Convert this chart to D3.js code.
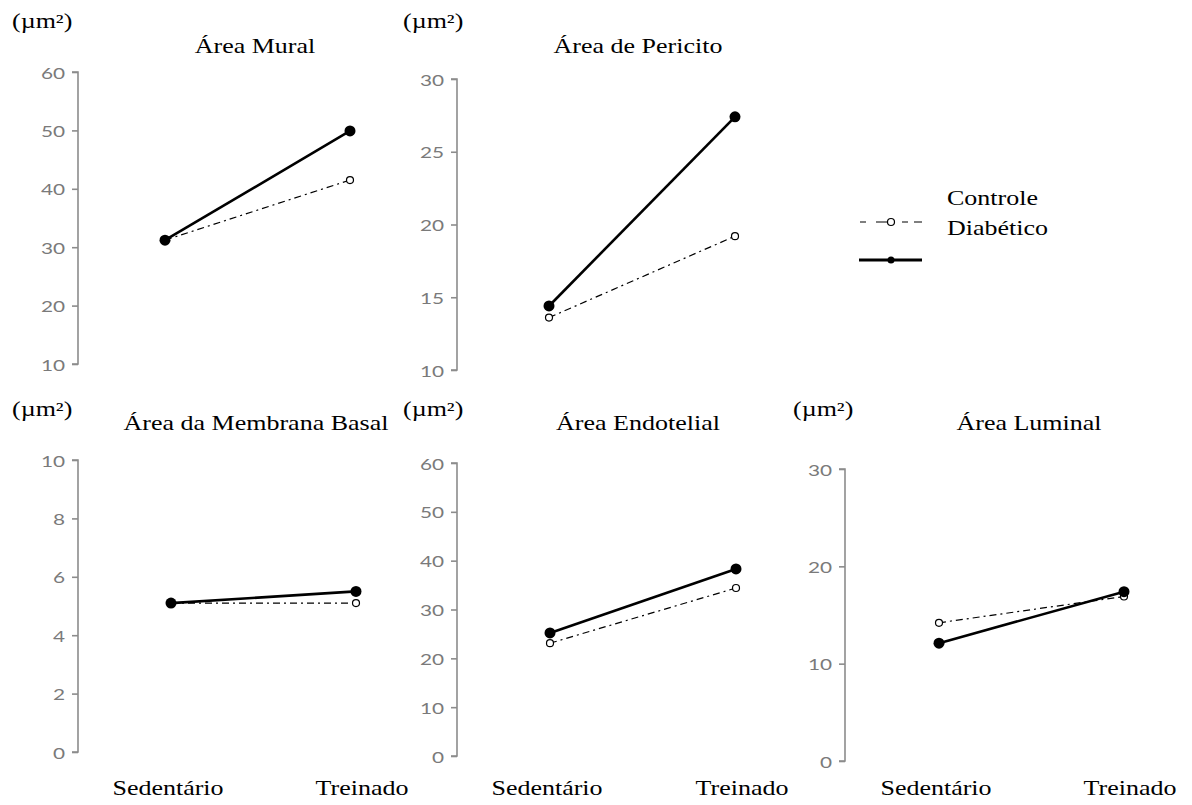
<!DOCTYPE html>
<html><head><meta charset="utf-8">
<script src="https://cdn.jsdelivr.net/npm/d3@7"></script>
<style>body{margin:0;background:#fff}svg{display:block}</style>
</head><body>
<svg id="c" width="1192" height="805"></svg>
<script>
// ---- data ----
const categories = ["Sedentário", "Treinado"];
const titles = ["Área Mural", "Área de Pericito", "Área da Membrana Basal", "Área Endotelial", "Área Luminal"];
const controle = [[31.2, 41.5], [13.6, 19.2], [5.1, 5.1], [23.1, 34.4], [14.2, 16.9]];
const diabetico = [[31.2, 49.9], [14.4, 27.4], [5.1, 5.5], [25.2, 38.3], [12.1, 17.4]];
const yDomains = [[10, 60], [10, 30], [0, 10], [0, 60], [0, 30]];
const yTicks = [[10, 20, 30, 40, 50, 60], [10, 15, 20, 25, 30], [0, 2, 4, 6, 8, 10], [0, 10, 20, 30, 40, 50, 60], [0, 10, 20, 30]];
const seriesNames = ["Controle", "Diabético"];
const unitLabel = "(µm²)";

// ---- layout ----
const layout = [
  {ax: 78,  yT: 72,  yB: 364, x0: 165, x1: 350, tx: 255,  ty: 53,  ux: 12,  uy: 28, xl: false},
  {ax: 457, yT: 79,  yB: 370, x0: 549, x1: 735, tx: 638,  ty: 53,  ux: 403, uy: 28, xl: false},
  {ax: 78,  yT: 460, yB: 752, x0: 171, x1: 356, tx: 256,  ty: 430, ux: 12,  uy: 416, xl: true},
  {ax: 457, yT: 463, yB: 756, x0: 550, x1: 736, tx: 638,  ty: 430, ux: 403, uy: 416, xl: true},
  {ax: 845, yT: 469, yB: 761, x0: 939, x1: 1124, tx: 1029, ty: 430, ux: 793, uy: 416, xl: true}
];
const SX = 1.3; // horizontal text stretch
const serif = "'Liberation Serif','Times New Roman',serif";
const sans = "Lato,'Open Sans',sans-serif";

const svg = d3.select("#c");

function txt(g, x, y, s, opts) {
  const t = g.append("text")
    .attr("transform", `translate(${x},${y}) scale(${SX},1)`)
    .attr("font-family", opts.font || serif)
    .attr("font-size", opts.size || 20)
    .attr("fill", opts.fill || "#000")
    .attr("text-anchor", opts.anchor || "start")
    .text(s);
  return t;
}

const dashC = "7,4,2,4";

layout.forEach((L, i) => {
  const g = svg.append("g");
  const y = d3.scaleLinear().domain(yDomains[i]).range([L.yB, L.yT]);
  const x = d3.scalePoint().domain(categories).range([L.x0, L.x1]);

  // axis
  const axis = d3.axisLeft(y).tickValues(yTicks[i]).tickSize(6).tickPadding(7).tickFormat(d3.format("d"));
  const ag = g.append("g").attr("transform", `translate(${L.ax},0)`).call(axis);
  ag.select(".domain").attr("stroke", "#8c8c8c").attr("stroke-width", 1.6).attr("d", `M-6,${L.yT}H0V${L.yB}H-6`);
  ag.selectAll(".tick line").attr("stroke", "#8c8c8c").attr("stroke-width", 1.6);
  ag.selectAll(".tick text").each(function() {
    d3.select(this).attr("x", null).attr("dy", null)
      .attr("transform", `translate(-13,6) scale(${SX},1)`)
      .attr("font-family", sans).attr("font-size", 16).attr("fill", "#7a7a7a");
  });

  // title & units
  txt(g, L.tx, L.ty, titles[i], {anchor: "middle"});
  txt(g, L.ux, L.uy, unitLabel, {});

  // lines
  const line = d3.line().x((d, j) => x(categories[j])).y(d => y(d));
  g.append("path").datum(controle[i]).attr("d", line).attr("fill", "none")
    .attr("stroke", "#000").attr("stroke-width", 1.2).attr("stroke-dasharray", dashC);
  g.append("path").datum(diabetico[i]).attr("d", line).attr("fill", "none")
    .attr("stroke", "#000").attr("stroke-width", 2.6);
  g.selectAll(".mc").data(controle[i]).enter().append("circle")
    .attr("cx", (d, j) => x(categories[j])).attr("cy", d => y(d)).attr("r", 3.5)
    .attr("fill", "#fff").attr("stroke", "#000").attr("stroke-width", 1.2);
  g.selectAll(".md").data(diabetico[i]).enter().append("circle")
    .attr("cx", (d, j) => x(categories[j])).attr("cy", d => y(d)).attr("r", 5.5)
    .attr("fill", "#000");

  if (L.xl) {
    txt(g, x(categories[0]) - 3, 795, categories[0], {anchor: "middle"});
    txt(g, x(categories[1]) + 6, 795, categories[1], {anchor: "middle"});
  }
});

// legend
const lg = svg.append("g");
txt(lg, 947, 205, seriesNames[0], {});
txt(lg, 947, 235, seriesNames[1], {});
lg.append("line").attr("x1", 860).attr("x2", 922).attr("y1", 222).attr("y2", 222)
  .attr("stroke", "#000").attr("stroke-width", 1.2).attr("stroke-dasharray", "6,10,16,10,6");
lg.append("circle").attr("cx", 891).attr("cy", 222).attr("r", 3.5)
  .attr("fill", "#fff").attr("stroke", "#000").attr("stroke-width", 1.2);
lg.append("line").attr("x1", 859).attr("x2", 922).attr("y1", 260).attr("y2", 260)
  .attr("stroke", "#000").attr("stroke-width", 3);
lg.append("circle").attr("cx", 891).attr("cy", 260).attr("r", 3.5).attr("fill", "#000");
</script>
</body></html>
